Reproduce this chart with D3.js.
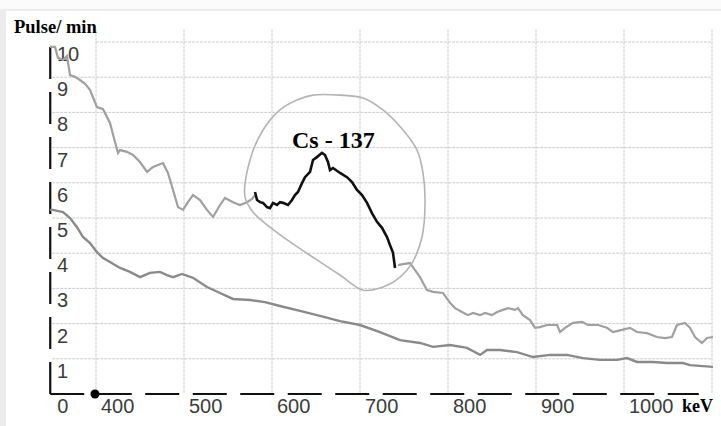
<!DOCTYPE html>
<html>
<head>
<meta charset="utf-8">
<script src="https://cdn.jsdelivr.net/npm/d3@7"></script>
<style>
  html, body { margin: 0; padding: 0; background: #fff; }
  #content { width: 721px; height: 426px; }
</style>
</head>
<body>
<div id="content"></div>
<script>
// Données (keV, impulsions/min)

var upperLeftKev = [347.7, 353.4, 356.8, 362.5, 367, 370.5, 376.1, 381.8, 387.5, 393.2, 401.1, 408, 415.9, 421.6, 425, 427.3, 435.2, 442, 450, 458, 464.8, 476.1, 481.8, 487.5, 493.2, 498.9, 504.5, 510.2, 518.2, 526.1, 533, 540.9, 546.6, 555.7, 563.6, 571.6, 577.3, 580.7];
var upperLeftVal = [9.86, 9.86, 9.55, 9.49, 9.6, 9.06, 9.01, 8.92, 8.81, 8.64, 8.15, 8.09, 7.7, 7.16, 6.85, 6.93, 6.88, 6.79, 6.59, 6.31, 6.45, 6.56, 6.28, 5.8, 5.31, 5.23, 5.45, 5.65, 5.51, 5.23, 5.03, 5.37, 5.57, 5.45, 5.37, 5.45, 5.54, 5.65];

var csKev = [580.7, 583, 586.4, 589.8, 594.3, 597.7, 601.1, 605.7, 609.1, 612.5, 618.2, 622.7, 626.1, 629.5, 634.1, 637.5, 643.2, 646.6, 651.1, 656.8, 660.2, 663.6, 665.9, 669.3, 677.3, 685.2, 690.9, 696.6, 702.3, 708, 713.6, 719.3, 725, 730.7, 734.1, 737.5, 739.8];
var csVal = [5.74, 5.51, 5.45, 5.43, 5.31, 5.28, 5.43, 5.37, 5.45, 5.43, 5.37, 5.51, 5.65, 5.74, 5.99, 6.16, 6.31, 6.65, 6.73, 6.85, 6.79, 6.59, 6.36, 6.42, 6.28, 6.16, 6.02, 5.8, 5.65, 5.43, 5.14, 4.89, 4.72, 4.46, 4.23, 4.01, 3.58];

var upperRightKev = [743.2, 748.9, 756.8, 764.8, 768.2, 776.1, 783, 794.3, 802.3, 808, 815.9, 822.7, 828.4, 836.4, 842, 850, 855.7, 862.5, 868.2, 876.1, 879.5, 885.2, 893.2, 898.9, 904.5, 912.5, 923.9, 927.3, 933, 942, 952.3, 959.1, 970.5, 980.7, 987.5, 997.7, 1006.8, 1014.8, 1026.1, 1037.5, 1046.6, 1054.5, 1060.2, 1069.3, 1075, 1080.7, 1088.6, 1094.3, 1101.1];
var upperRightVal = [3.66, 3.69, 3.72, 3.44, 3.32, 2.95, 2.9, 2.87, 2.59, 2.44, 2.33, 2.24, 2.3, 2.24, 2.3, 2.24, 2.33, 2.39, 2.44, 2.39, 2.44, 2.24, 2.1, 1.88, 1.9, 1.96, 1.96, 1.76, 1.88, 2.02, 2.05, 1.96, 1.96, 1.88, 1.76, 1.82, 1.88, 1.76, 1.73, 1.62, 1.59, 1.62, 1.96, 2.02, 1.88, 1.62, 1.45, 1.59, 1.62];

var lowerKev = [347.7, 351.1, 362.5, 370.5, 378.4, 385.2, 393.2, 401.1, 408, 415.9, 427.3, 438.6, 450, 461.4, 472.7, 480.7, 487.5, 497.7, 510.2, 526.1, 540.9, 555.7, 575, 592, 609.1, 631.8, 654.5, 677.3, 700, 722.7, 745.5, 768.2, 783, 802.3, 821.6, 836.4, 844.3, 859.1, 878.4, 896.6, 915.9, 935.2, 953.4, 972.7, 992, 1003.4, 1014.8, 1033, 1048.9, 1067, 1075, 1101.1];
var lowerVal = [5.23, 5.23, 5.17, 5, 4.74, 4.46, 4.29, 4.03, 3.86, 3.75, 3.58, 3.47, 3.32, 3.44, 3.47, 3.38, 3.32, 3.41, 3.3, 3.04, 2.87, 2.7, 2.67, 2.61, 2.5, 2.36, 2.22, 2.07, 1.96, 1.76, 1.53, 1.45, 1.34, 1.39, 1.31, 1.11, 1.25, 1.25, 1.19, 1.05, 1.11, 1.11, 1.02, 0.97, 0.97, 1.02, 0.91, 0.91, 0.88, 0.88, 0.82, 0.77];

// contour tracé à la main autour du pic
var blobKev = [569.3, 575, 589.8, 609.1, 628.4, 646.6, 677.3, 703.4, 726.1, 748.9, 764.8, 771.6, 773.9, 770.5, 759.1, 745.5, 726.1, 703.4, 677.3, 651.1, 620.5, 597.7, 578.4];
var blobVal = [5.6, 6.65, 7.5, 8.07, 8.35, 8.49, 8.49, 8.41, 8.07, 7.5, 6.93, 6.28, 5.43, 4.46, 3.72, 3.32, 3.04, 2.95, 3.38, 3.81, 4.32, 4.74, 5.17];

var xTicks = [400, 500, 600, 700, 800, 900, 1000];
var yTicks = [1, 2, 3, 4, 5, 6, 7, 8, 9, 10];
var xMin = 348, xMax = 1100;

var zip = (k, v) => k.map((d, i) => [d, v[i]]);

// Paramètres graphiques

var svg = d3.select("#content").append("svg")
    .attr("width", 721)
    .attr("height", 426);

var x = d3.scaleLinear().domain([400, 1100]).range([96, 712]),
    y = d3.scaleLinear().domain([0, 10]).range([394, 42]);

// cadre du scan
svg.append("rect").attr("width", 721).attr("height", 426).attr("fill", "#ececec");
svg.append("rect").attr("x", 0).attr("y", 0).attr("width", 721).attr("height", 9).attr("fill", "#fbfbfb");
svg.append("rect").attr("x", 6).attr("y", 11).attr("width", 715).attr("height", 415).attr("fill", "#fff");

// Grille

svg.append("g")
  .selectAll("line")
    .data(yTicks)
  .join("line")
    .attr("x1", d => d == 10 ? x(400) : x(xMin) + 2)
    .attr("x2", x(xMax))
    .attr("y1", d => y(d))
    .attr("y2", d => y(d))
    .attr("stroke", "#cdcdcd")
    .attr("stroke-dasharray", "3,1");

svg.append("g")
  .selectAll("line")
    .data(xTicks.concat([1100]))
  .join("line")
    .attr("x1", d => x(d))
    .attr("x2", d => x(d))
    .attr("y1", y(10.35))
    .attr("y2", y(0))
    .attr("stroke", "#cdcdcd")
    .attr("stroke-dasharray", "3,1");

// Axes (traits interrompus comme sur l'original)

svg.append("line")
    .attr("x1", x(xMin)).attr("x2", x(xMin))
    .attr("y1", y(0)).attr("y2", y(9.9))
    .attr("stroke", "#111").attr("stroke-width", 2.2)
    .attr("stroke-dasharray", "32,13");

svg.append("line")
    .attr("x1", x(xMin)).attr("x2", x(1085))
    .attr("y1", y(0)).attr("y2", y(0))
    .attr("stroke", "#111").attr("stroke-width", 2.2)
    .attr("stroke-dasharray", "34,13.5");

svg.append("circle")
    .attr("cx", x(400) - 1).attr("cy", y(0))
    .attr("r", 4.5).attr("fill", "#000");

svg.append("g")
  .selectAll("text")
    .data(xTicks)
  .join("text")
    .attr("x", d => x(d) + 5)
    .attr("y", 413)
    .attr("font-family", "Liberation Sans, Arial, sans-serif")
    .attr("font-size", 20)
    .attr("fill", "#3c3c3c")
    .text(d => d);

svg.append("text")
    .attr("x", x(xMin) + 7).attr("y", 413)
    .attr("font-family", "Liberation Sans, Arial, sans-serif")
    .attr("font-size", 20).attr("fill", "#3c3c3c")
    .text("0");

svg.append("g")
  .selectAll("text")
    .data(yTicks)
  .join("text")
    .attr("x", 57)
    .attr("y", d => y(d) + 19)
    .attr("font-family", "Liberation Sans, Arial, sans-serif")
    .attr("font-size", 20)
    .attr("fill", "#3c3c3c")
    .text(d => d);

// Courbes

var line = d3.line().x(d => x(d[0])).y(d => y(d[1]));

svg.append("path")
    .attr("d", line(zip(lowerKev, lowerVal)))
    .attr("fill", "none").attr("stroke", "#8a8a8a").attr("stroke-width", 2.4);

svg.append("path")
    .attr("d", line(zip(upperLeftKev, upperLeftVal)))
    .attr("fill", "none").attr("stroke", "#a0a0a0").attr("stroke-width", 2.2);

svg.append("path")
    .attr("d", line(zip(upperRightKev, upperRightVal)))
    .attr("fill", "none").attr("stroke", "#a0a0a0").attr("stroke-width", 2.2);

svg.append("path")
    .attr("d", d3.line().x(d => x(d[0])).y(d => y(d[1])).curve(d3.curveCatmullRomClosed)(zip(blobKev, blobVal)))
    .attr("fill", "none").attr("stroke", "#b4b4b4").attr("stroke-width", 1.6);

svg.append("path")
    .attr("d", line(zip(csKev, csVal)))
    .attr("fill", "none").attr("stroke", "#111").attr("stroke-width", 2.6);

// Textes

svg.append("text")
    .attr("x", 14).attr("y", 33)
    .attr("font-family", "Liberation Serif, Times New Roman, serif")
    .attr("font-weight", "bold").attr("font-size", 18.5)
    .text("Pulse/ min");

svg.append("text")
    .attr("x", 292).attr("y", 148)
    .attr("font-family", "Liberation Serif, Times New Roman, serif")
    .attr("font-weight", "bold").attr("font-size", 24)
    .text("Cs - 137");

svg.append("text")
    .attr("x", 682).attr("y", 412)
    .attr("font-family", "Liberation Serif, Times New Roman, serif")
    .attr("font-weight", "bold").attr("font-size", 18)
    .text("keV");
</script>
</body>
</html>
